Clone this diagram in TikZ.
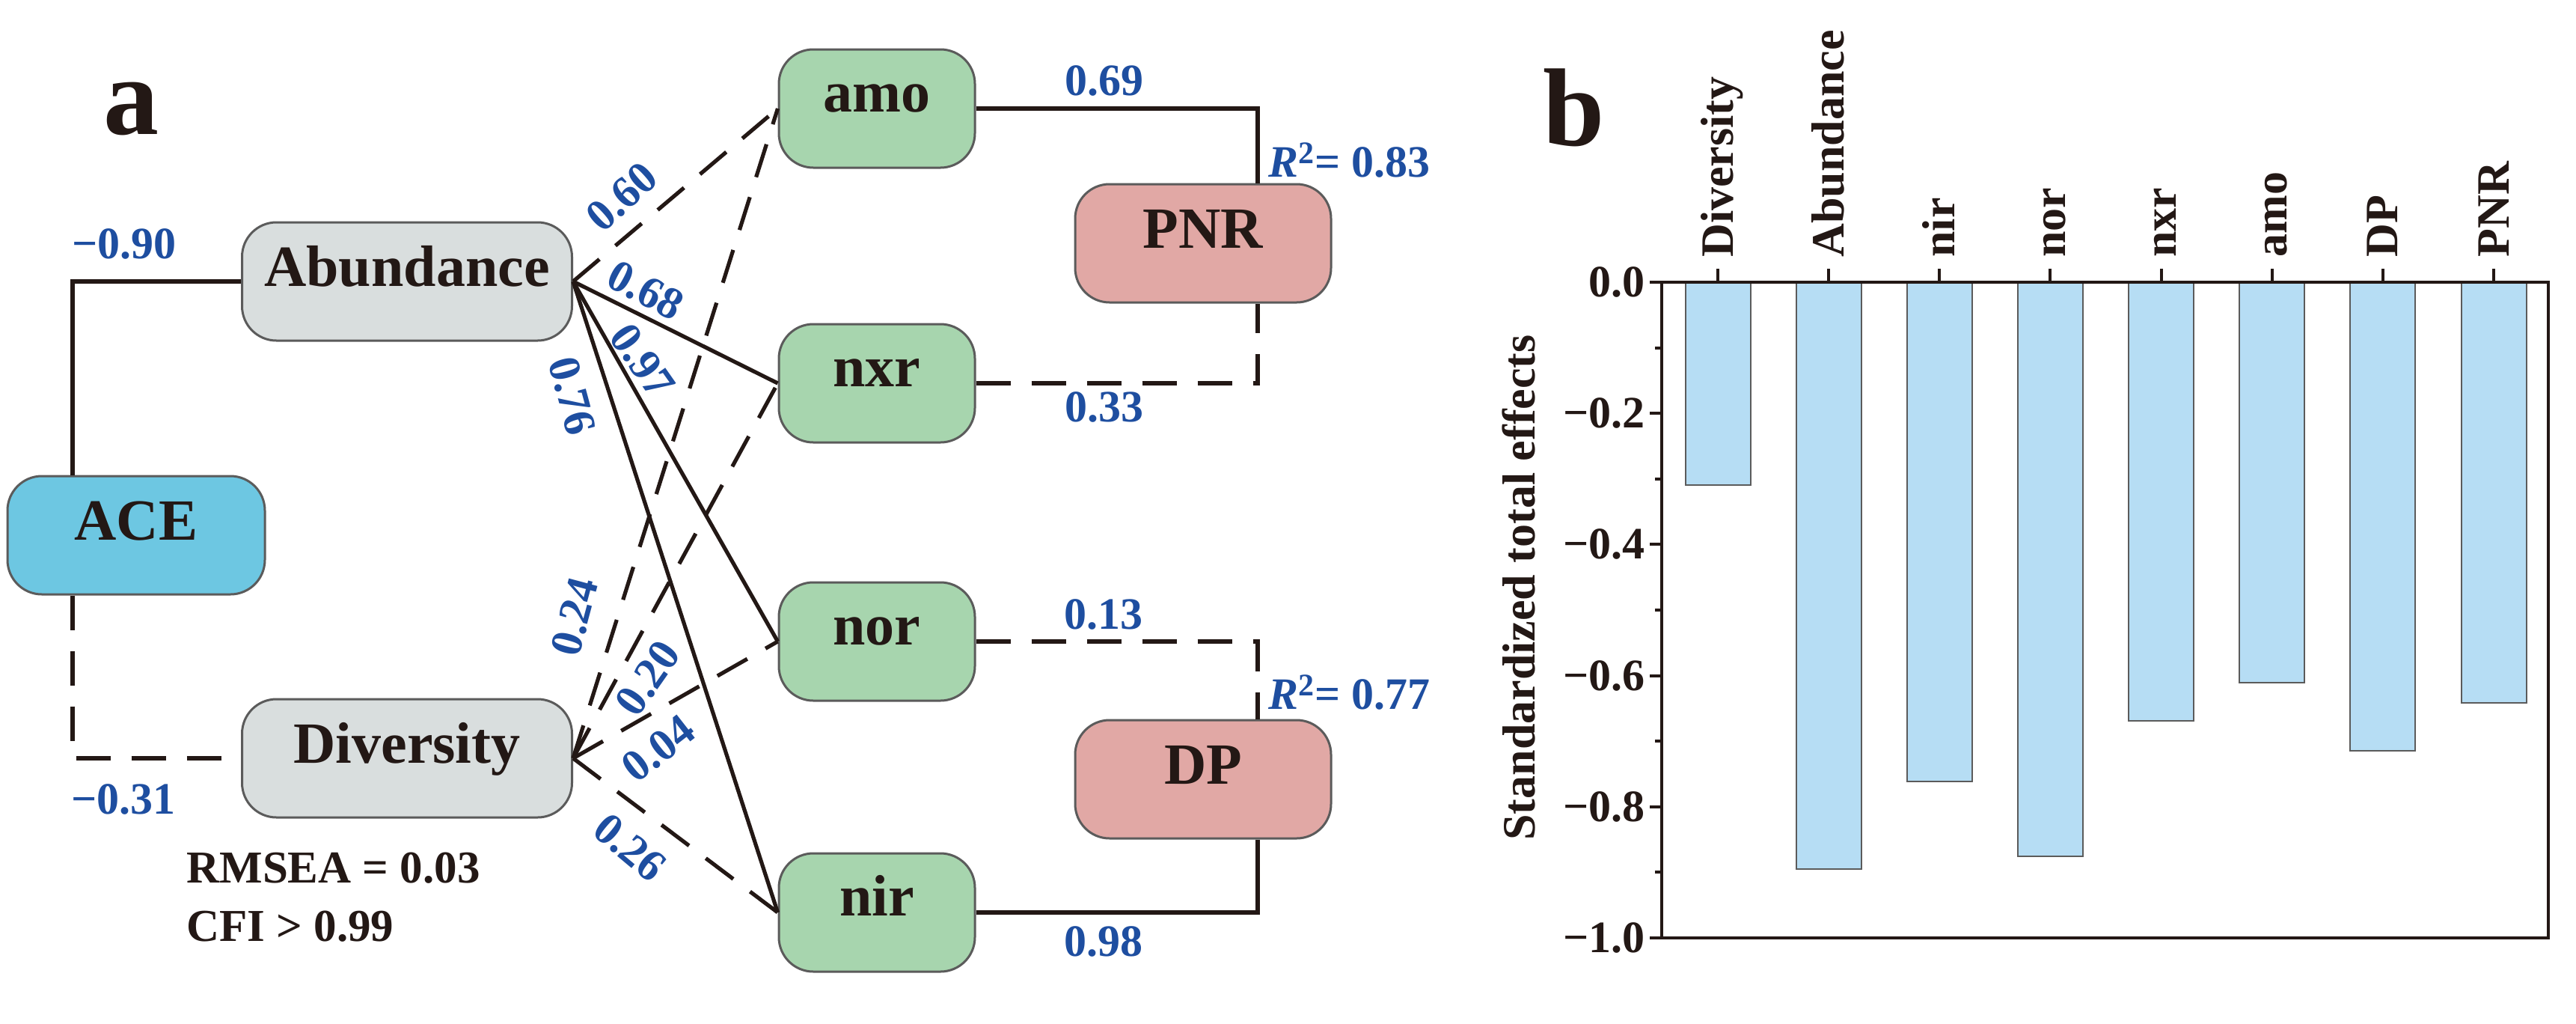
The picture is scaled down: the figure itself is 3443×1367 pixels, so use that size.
\documentclass[tikz,border=0pt]{standalone}
\usepackage{fontspec}
\setmainfont{Liberation Serif}
\definecolor{bordergray}{HTML}{5B5B5B}
\definecolor{abgray}{HTML}{D9DEDE}
\definecolor{acecol}{HTML}{6DC7E2}
\definecolor{genecol}{HTML}{A7D5AE}
\definecolor{pinkcol}{HTML}{E1A8A5}
\definecolor{labblue}{HTML}{1E4EA0}
\definecolor{txtblack}{HTML}{231815}
\definecolor{barcol}{HTML}{B6DDF4}
\begin{document}
\begin{tikzpicture}[x=0.5pt,y=-0.5pt,
  nodebox/.style={draw=bordergray, line width=1.5pt, rounded corners=23pt, inner sep=0pt,
    minimum height=79pt, font=\bfseries\fontsize{39}{40}\selectfont, text=txtblack},
  capbox/.style={nodebox, text height=0.66em, text depth=0pt},
  genebox/.style={nodebox, fill=genecol, minimum width=131pt, text height=0.46em, text depth=0pt},
  solidline/.style={draw=txtblack, line width=2.6pt},
  dashline/.style={draw=txtblack, line width=2.6pt, dash pattern=on 23pt off 14pt},
  elab/.style={text=labblue, font=\bfseries\fontsize{30}{30}\selectfont, inner sep=0pt},
  blab/.style={text=txtblack, font=\bfseries\fontsize{30.5}{31}\selectfont, inner sep=0pt},
  panlab/.style={text=txtblack, font=\bfseries\fontsize{74}{74}\selectfont, inner sep=0pt},
  ticklab/.style={text=txtblack, font=\bfseries\fontsize{30}{30}\selectfont, inner sep=0pt, anchor=east},
  catlab/.style={text=txtblack, font=\bfseries\fontsize{31}{31}\selectfont, inner sep=0pt, rotate=90, anchor=base west},
  barsty/.style={fill=barcol, draw=bordergray, line width=1pt},
  axsty/.style={draw=txtblack, line width=2pt}
]
\useasboundingbox (0,0) rectangle (3443,1367);

% ---------- panel a ----------
\node[panlab] (pa) at (175,145) {a};

\node[capbox, fill=abgray, minimum width=220.5pt] (Abundance) at (544,376) {Abundance};
\node[capbox, fill=abgray, minimum width=220.5pt] (Diversity) at (544,1013) {Diversity};
\node[capbox, fill=acecol, minimum width=172pt] (ACE) at (182,715) {ACE};

\node[genebox] (amo) at (1172,145) {amo};
\node[genebox] (nxr) at (1172,512) {nxr};
\node[genebox] (nor) at (1172,857) {nor};
\node[genebox] (nir) at (1172,1219) {nir};

\node[capbox, fill=pinkcol, minimum width=171pt] (PNR) at (1608,325) {PNR};
\node[capbox, fill=pinkcol, minimum width=171pt] (DP) at (1608,1041) {DP};

\coordinate (aceX) at (97,715);
\coordinate (pX) at (1681,600);

% ACE connectors
\draw[solidline] (ACE.north -| aceX) |- (Abundance.west);
\draw[dashline] (ACE.south -| aceX) |- (Diversity.west);

% Abundance connectors
\draw[dashline] (Abundance.east) -- (amo.west);
\draw[solidline] (Abundance.east) -- (nxr.west);
\draw[solidline] (Abundance.east) -- (nor.west);
\draw[solidline] (Abundance.east) -- (nir.west);

% Diversity connectors
\draw[dashline] (Diversity.east) -- (amo.west);
\draw[dashline] (Diversity.east) -- (nxr.west);
\draw[dashline] (Diversity.east) -- (nor.west);
\draw[dashline] (Diversity.east) -- (nir.west);

% gene -> outcome connectors
\draw[solidline] (amo.east) -| (PNR.north -| pX);
\draw[dashline] (nxr.east) -| (PNR.south -| pX);
\draw[dashline] (nor.east) -| (DP.north -| pX);
\draw[solidline] (nir.east) -| (DP.south -| pX);

% labels
\node[elab] (m090) at (166,326) {−0.90};
\node[elab] (m031) at (165,1068) {−0.31};
\node[elab, rotate=42] (l060) at (831,263) {0.60};
\node[elab, rotate=-28] (l068) at (863,388) {0.68};
\node[elab, rotate=-55] (l097) at (859,482) {0.97};
\node[elab, rotate=-75] (l076) at (765,529) {0.76};
\node[elab, rotate=75] (l024) at (768,824) {0.24};
\node[elab, rotate=55] (l020) at (866,906) {0.20};
\node[elab, rotate=38] (l004) at (880,1000) {0.04};
\node[elab, rotate=-40] (l026) at (842,1132) {0.26};
\node[elab] (l069) at (1476,108) {0.69};
\node[elab] (l033) at (1476,544) {0.33};
\node[elab] (l013) at (1475,821) {0.13};
\node[elab] (l098) at (1475,1258) {0.98};
\node[elab, anchor=west] (r2a) at (1695,214) {\textit{R}\textsuperscript{2}= 0.83};
\node[elab, anchor=west] (r2b) at (1695,925) {\textit{R}\textsuperscript{2}= 0.77};

\node[blab, anchor=west] (rmsea) at (249,1160) {RMSEA = 0.03};
\node[blab, anchor=west] (cfi) at (249,1238) {CFI > 0.99};

% ---------- panel b ----------
\node[panlab] (pb) at (2104,144) {b};

\foreach \v/\n [count=\i from 0] in {0.309/Diversity,0.895/Abundance,0.761/nir,0.876/nor,0.669/nxr,0.611/amo,0.715/DP,0.642/PNR} {
  \pgfmathsetmacro\cx{2296+148.14*\i}
  \pgfmathsetmacro\yb{377+876*\v}
  \draw[barsty] (\cx-43.5,377) rectangle (\cx+43.5,\yb);
  \draw[axsty] (\cx,377) -- (\cx,359);
  \node[catlab] (cat\i) at (\cx+20,344) {\n};
}

\draw[axsty] (2221,377) rectangle (3406,1253);

\foreach \k/\t in {0/0.0,1/−0.2,2/−0.4,3/−0.6,4/−0.8,5/−1.0} {
  \pgfmathsetmacro\yy{377+175.2*\k}
  \draw[axsty] (2221,\yy) -- (2205,\yy);
  \node[ticklab] (tk\k) at (2199,\yy) {\t};
}
\foreach \k in {0,1,2,3,4} {
  \pgfmathsetmacro\yy{377+87.6+175.2*\k}
  \draw[axsty] (2221,\yy) -- (2212,\yy);
}

\node[text=txtblack, font=\bfseries\fontsize{31}{31}\selectfont, inner sep=0pt, rotate=90, anchor=base] (ylab) at (2051,785) {Standardized total effects};

\end{tikzpicture}
\end{document}
